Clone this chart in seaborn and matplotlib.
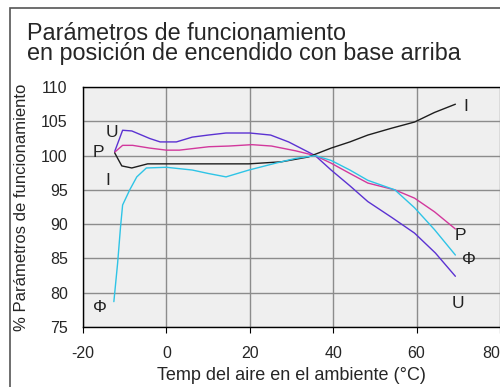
# IMPORTS #
import numpy as np
import pandas as pd
import matplotlib
matplotlib.use('Agg')
import matplotlib.pyplot as plt
from matplotlib.patches import Rectangle
import seaborn as sns

# DATA #
u_temp = [-12.4, -10.5, -8.3, -4, -1.5, 2.4, 6.2, 10, 14.3, 20, 25, 29.3, 35.7, 39.5, 44, 48.3, 54, 59.5, 64.5, 69.3]
u_vals = [100.6, 103.7, 103.6, 102.5, 102.0, 102.0, 102.7, 103.0, 103.3, 103.3, 103.0, 102.0, 100.0, 97.9, 95.6, 93.3, 91.0, 88.7, 85.8, 82.4]

p_temp = [-12.4, -10.5, -8.1, -4, 0, 3.1, 10.2, 15, 20.5, 25.2, 31, 35.7, 39.5, 44, 48.3, 54.8, 59.5, 64.3, 69.3]
p_vals = [100.5, 101.5, 101.5, 101.1, 100.8, 100.8, 101.3, 101.4, 101.6, 101.4, 100.7, 100.0, 98.9, 97.4, 96.0, 95.0, 93.8, 91.8, 89.3]

i_temp = [-12.4, -10.7, -8.3, -6.4, -4.5, 0, 10, 19.8, 27.6, 34, 39.5, 44, 48.3, 54, 59.5, 64.3, 69.3]
i_vals = [100.4, 98.5, 98.2, 98.5, 98.8, 98.8, 98.8, 98.8, 99.1, 99.8, 101.1, 102.0, 103.0, 104.0, 104.9, 106.3, 107.5]

f_temp = [-12.6, -11.7, -11.0, -10.5, -8.8, -7.1, -4.8, 0, 6.2, 10, 14.3, 19.8, 26.2, 31, 35.7, 39.5, 44, 48.3, 54.8, 59.5, 64.3, 69.3]
f_vals = [78.7, 84.3, 89.6, 92.8, 95.0, 96.9, 98.2, 98.3, 97.9, 97.4, 96.9, 97.9, 98.9, 99.6, 100.0, 99.3, 97.9, 96.4, 95.0, 92.4, 89.2, 85.5]

x_ticks = [-20, 0, 20, 40, 60, 80]
y_ticks = [75, 80, 85, 90, 95, 100, 105, 110]

# curve name -> (temps, values, colour)
series = {
    'U': (u_temp, u_vals, '#5b32d2'),
    'P': (p_temp, p_vals, '#d2389c'),
    'I': (i_temp, i_vals, '#1e1e1e'),
    'Φ': (f_temp, f_vals, '#2ec4e6'),
}

# text labels next to the curve ends
labels_left = {'U': (-13.1, 103.4), 'P': (-16.4, 100.5), 'I': (-14.0, 96.4), 'Φ': (-16.0, 77.8)}
labels_right = {'I': (71.7, 107.1), 'P': (70.5, 88.4), 'Φ': (72.6, 84.9), 'U': (69.8, 78.4)}

# STYLE #
sns.set_style('whitegrid')
plt.rcParams['font.family'] = ['Liberation Sans', 'DejaVu Sans']
plt.rcParams['axes.unicode_minus'] = False

fig = plt.figure(figsize=(5.0, 3.87), dpi=100)
ax = fig.add_axes([0.166, 0.155, 0.834, 0.620])
ax.set_facecolor('#efefef')

# frame round the whole picture
fig.add_artist(Rectangle((10 / 500, -0.1), 1.2, 1.1 - 8 / 387, transform=fig.transFigure,
                         fill=False, edgecolor='#555555', linewidth=1.2))

# PLOT #
for name, (t, v, col) in series.items():
    df = pd.DataFrame({'temp': t, 'val': v})
    sns.lineplot(data=df, x='temp', y='val', color=col, linewidth=1.0, ax=ax, sort=False)

for name, (x, y) in labels_left.items():
    ax.text(x, y, name, fontsize=12.5, ha='center', va='center', color='#222222')
for name, (x, y) in labels_right.items():
    ax.text(x, y, name, fontsize=12.5, ha='center', va='center', color='#222222')

ax.set_xlim(-20, 80)
ax.set_ylim(75, 110)
ax.set_xticks(x_ticks)
ax.set_yticks(y_ticks)
ax.grid(True, color='#8c8c8c', linewidth=1.0)
for side in ['left', 'bottom', 'top']:
    ax.spines[side].set_color('black')
    ax.spines[side].set_linewidth(1.0)
ax.spines['right'].set_visible(False)

ax.tick_params(axis='x', length=4.5, width=0.8, color='black', labelsize=11.5, pad=9.5, direction='out', bottom=True)
ax.tick_params(axis='y', length=0, labelsize=11.5, pad=11)
ax.get_xticklabels()[-1].set_horizontalalignment('right')

ax.set_xlabel('Temp del aire en el ambiente (°C)', fontsize=13, labelpad=4)
ax.set_ylabel('% Parámetros de funcionamiento', fontsize=12, labelpad=8.5)

# two line title as one text, tight line spacing like the reference
# (baseline alignment of a multi-line text goes by its last line)
fig.text(0.054, 1 - 60 / 387, 'Parámetros de funcionamiento\nen posición de encendido con base arriba',
         fontsize=16.8, va='baseline', linespacing=0.84)

plt.savefig('out.png', dpi=100)
